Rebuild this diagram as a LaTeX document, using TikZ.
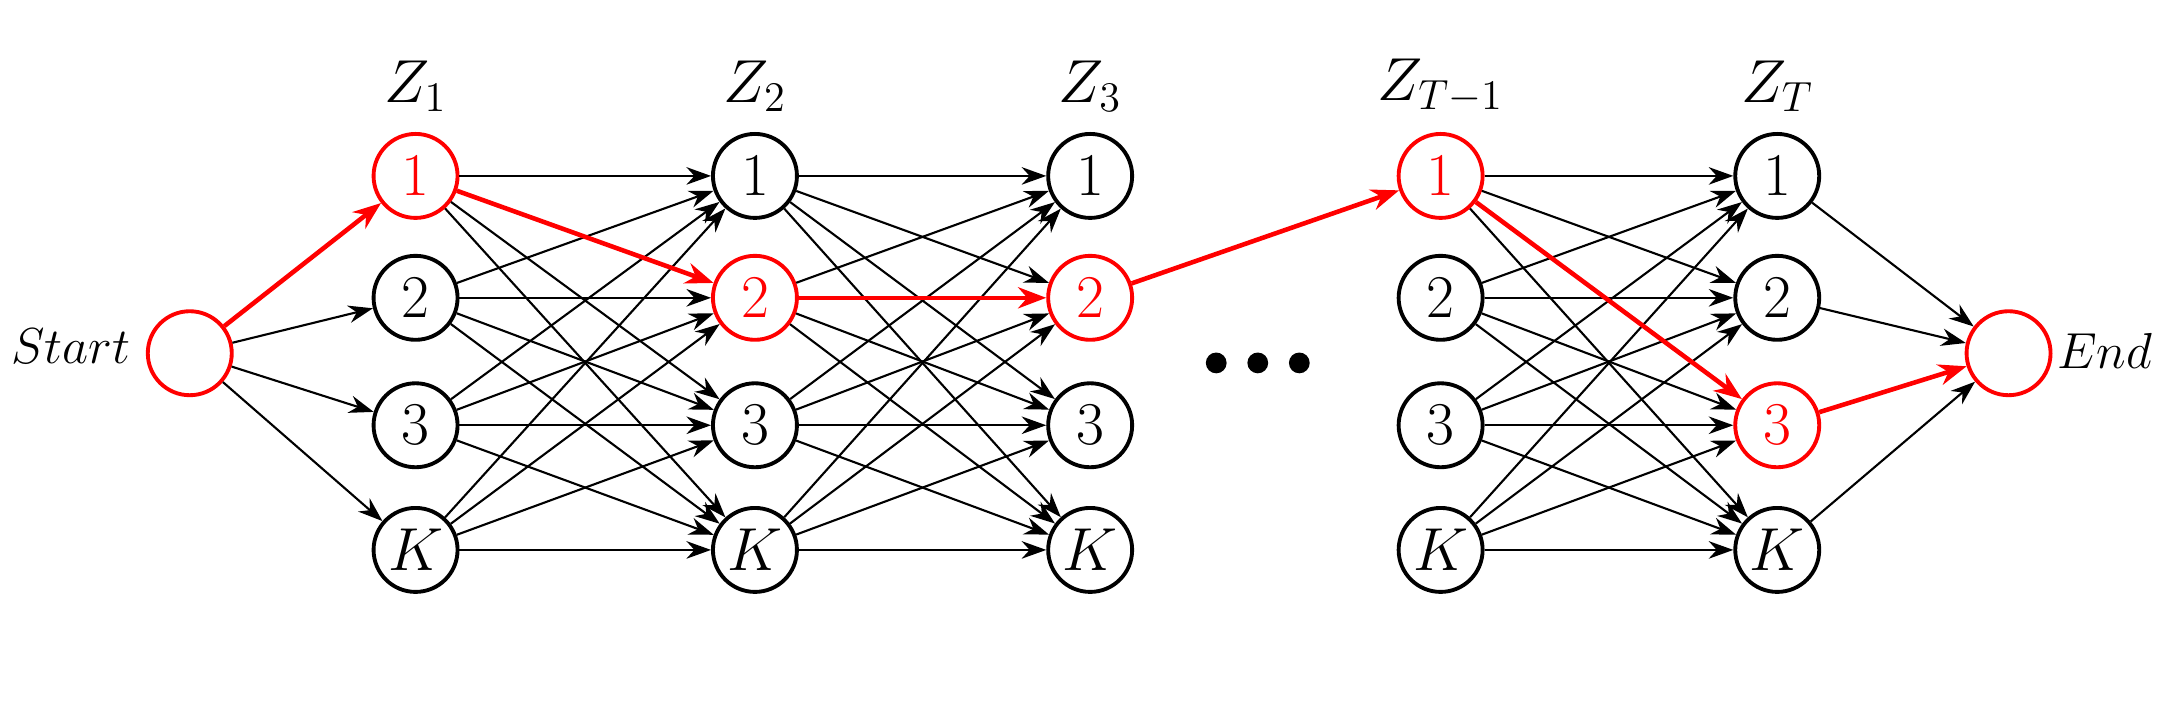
\documentclass[tikz,border=0pt]{standalone}
\usetikzlibrary{arrows.meta}
\begin{document}
\begin{tikzpicture}[x=0.01385cm,y=-0.01385cm,
  st/.style={circle,draw,line width=1.1pt,minimum size=0.84cm,inner sep=0pt,font=\fontsize{17}{20}\selectfont},
  rs/.style={st,draw=red,text=red},
  ed/.style={-{Stealth[length=7pt,width=5pt]},line width=0.6pt},
  rd/.style={-{Stealth[length=8pt,width=6pt]},line width=1.3pt,draw=red},
  lab/.style={font=\fontsize{17}{20}\selectfont}]
\useasboundingbox (0,0) rectangle (1568,523);
\node[rs] (S) at (137,255) {};
\node[lab,anchor=east,font=\fontsize{15.5}{18}\selectfont] (st) at (103,250) {$Start$};
\node[rs] (E) at (1450,255) {};
\node[lab,anchor=west,font=\fontsize{15.5}{18}\selectfont] (en) at (1476,253) {$End$};
\foreach \c/\x/\t/\rr in {1/300/Z_1/1,2/545/Z_2/2,3/787/Z_3/2,4/1040/Z_{T-1}/1,5/1283/Z_T/3}{
  \node[lab] (h\c) at (\x,62) {$\t$};
  \foreach \r/\y/\s in {1/127/1,2/215/2,3/307/3,4/397/K}{
    \ifnum\r=\rr
      \node[rs] (n\c\r) at (\x,\y) {$\s$};
    \else
      \node[st] (n\c\r) at (\x,\y) {$\s$};
    \fi
  }
}
\foreach \a/\b/\p/\q in {1/2/1/2,2/3/2/2,4/5/1/3}{
  \foreach \i in {1,2,3,4}{\foreach \j in {1,2,3,4}{
    \ifnum\i=\p \ifnum\j=\q \else \draw[ed] (n\a\i) -- (n\b\j); \fi
    \else \draw[ed] (n\a\i) -- (n\b\j); \fi
  }}
}
\foreach \j in {2,3,4}{\draw[ed] (S) -- (n1\j);}
\foreach \i in {1,2,4}{\draw[ed] (n5\i) -- (E);}
\draw[rd] (S) -- (n11);
\draw[rd] (n11) -- (n22);
\draw[rd] (n22) -- (n32);
\draw[rd] (n32) -- (n41);
\draw[rd] (n41) -- (n53);
\draw[rd] (n53) -- (E);
\foreach \k/\x in {1/878,2/908,3/938}{\fill (\x,262) circle (7.5) coordinate (d\k);}
\end{tikzpicture}
\end{document}
